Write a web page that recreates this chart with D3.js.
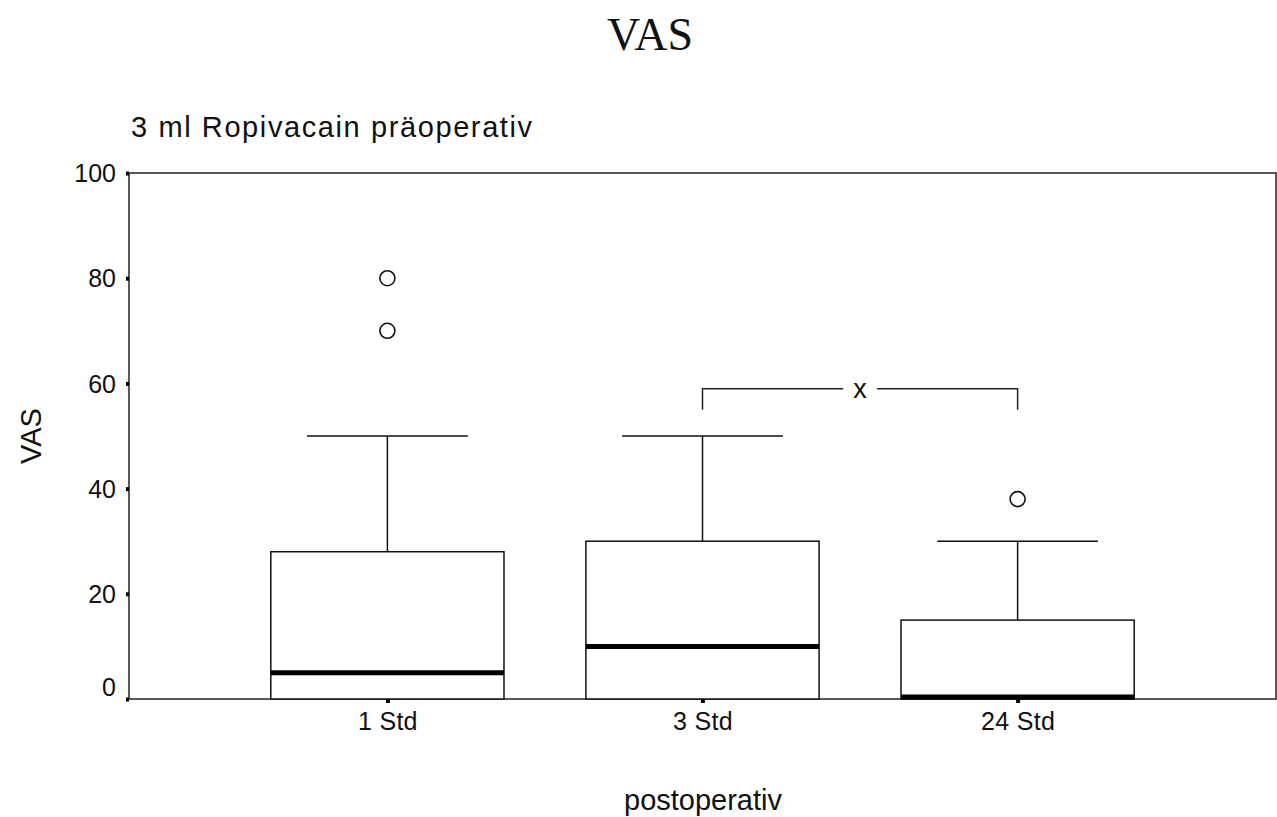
<!DOCTYPE html>
<html lang="de">
<head>
<meta charset="UTF-8">
<title>VAS</title>
<script src="https://d3js.org/d3.v7.min.js"></script>
<style>
  body { margin: 0; background: #fff; }
  text { font-family: "Liberation Sans", Arial, sans-serif; fill: #111; }
</style>
</head>
<body>
<script>
    // Daten
    const categories = ["1 Std", "3 Std", "24 Std"];
    const q1 = [0, 0, 0];
    const median = [5, 10, 0];
    const q3 = [28, 30, 15];
    const whiskerLow = [0, 0, 0];
    const whiskerHigh = [50, 50, 30];
    const outliers = [[80, 70], [], [38]];
    const yTicks = [0, 20, 40, 60, 80, 100];
    // Signifikanz-Klammer zwischen 3 Std und 24 Std
    const bracketPair = ["3 Std", "24 Std"];
    const bracketTop = 59;
    const bracketBottom = 55;
    const bracketLabel = "x";

    const width = 1277, height = 817;
    const margin = { top: 173, right: 1, bottom: 118, left: 129 };

    const svg = d3.select("body").append("svg")
        .attr("width", width)
        .attr("height", height);

    const x = d3.scalePoint()
        .domain(categories)
        .range([margin.left, width - margin.right])
        .padding(0.82);

    const y = d3.scaleLinear()
        .domain([0, 100])
        .range([height - margin.bottom, margin.top]);

    const step = x.step();
    const boxHalf = step * 0.37;
    const capHalf = step * 0.255;

    // Titel
    svg.append("text")
        .attr("x", 650).attr("y", 50)
        .attr("text-anchor", "middle")
        .style("font-family", "'Liberation Serif', 'Times New Roman', serif")
        .style("font-size", "46px")
        .text("VAS");

    svg.append("text")
        .attr("x", 131).attr("y", 137)
        .style("font-size", "29px")
        .style("letter-spacing", "1.6px")
        .text("3 ml Ropivacain präoperativ");

    // Rahmen
    svg.append("rect")
        .attr("x", margin.left).attr("y", margin.top)
        .attr("width", width - margin.right - margin.left)
        .attr("height", y(0) - margin.top)
        .attr("fill", "none")
        .attr("stroke", "#222")
        .attr("stroke-width", 1.5);

    // Achsen
    const yAxis = svg.append("g")
        .attr("transform", `translate(${margin.left},0)`)
        .call(d3.axisLeft(y).tickValues(yTicks).tickSize(3).tickPadding(10));
    yAxis.select(".domain").remove();
    yAxis.selectAll(".tick line").attr("stroke", "#000").attr("stroke-width", 4);
    yAxis.selectAll(".tick text")
        .style("font-size", "25px")
        .style("font-family", "'Liberation Sans', Arial, sans-serif")
        .attr("fill", "#111")
        .attr("dy", d => d === 0 ? "-0.15em" : "0.35em");

    const xAxis = svg.append("g")
        .attr("transform", `translate(0,${y(0)})`)
        .call(d3.axisBottom(x).tickSize(4).tickPadding(9));
    xAxis.select(".domain").remove();
    xAxis.selectAll(".tick line").attr("stroke", "#000").attr("stroke-width", 4);
    xAxis.selectAll(".tick text")
        .style("font-size", "25px")
        .style("letter-spacing", "0.3px")
        .style("font-family", "'Liberation Sans', Arial, sans-serif")
        .attr("fill", "#111");

    svg.append("text")
        .attr("x", 703).attr("y", 810)
        .attr("text-anchor", "middle")
        .style("font-size", "29px")
        .text("postoperativ");

    svg.append("text")
        .attr("transform", `translate(41,${(margin.top + y(0)) / 2}) rotate(-90)`)
        .attr("text-anchor", "middle")
        .style("font-size", "29px")
        .text("VAS");

    // Boxplots
    const boxes = svg.append("g").selectAll("g")
        .data(categories)
        .join("g");

    boxes.append("line")
        .attr("x1", d => x(d)).attr("x2", d => x(d))
        .attr("y1", (d, i) => y(q3[i])).attr("y2", (d, i) => y(whiskerHigh[i]))
        .attr("stroke", "#111").attr("stroke-width", 1.5);

    boxes.append("line")
        .attr("x1", d => x(d) - capHalf).attr("x2", d => x(d) + capHalf)
        .attr("y1", (d, i) => y(whiskerHigh[i])).attr("y2", (d, i) => y(whiskerHigh[i]))
        .attr("stroke", "#111").attr("stroke-width", 1.5);

    boxes.append("rect")
        .attr("x", d => x(d) - boxHalf)
        .attr("width", boxHalf * 2)
        .attr("y", (d, i) => y(q3[i]))
        .attr("height", (d, i) => y(q1[i]) - y(q3[i]))
        .attr("fill", "#fff")
        .attr("stroke", "#111").attr("stroke-width", 1.5);

    boxes.append("line")
        .attr("x1", d => x(d) - boxHalf).attr("x2", d => x(d) + boxHalf)
        .attr("y1", (d, i) => y(median[i]) - (median[i] === 0 ? 2 : 0))
        .attr("y2", (d, i) => y(median[i]) - (median[i] === 0 ? 2 : 0))
        .attr("stroke", "#000").attr("stroke-width", 5);

    boxes.selectAll("circle")
        .data((d, i) => outliers[i].map(v => ({ cat: d, v })))
        .join("circle")
        .attr("cx", o => x(o.cat))
        .attr("cy", o => y(o.v))
        .attr("r", 7.5)
        .attr("fill", "#fff")
        .attr("stroke", "#111").attr("stroke-width", 1.6);

    // Klammer
    const bx1 = x(bracketPair[0]), bx2 = x(bracketPair[1]);
    const bmid = (bx1 + bx2) / 2;
    const gap = 17;
    const bracket = svg.append("g")
        .attr("fill", "none").attr("stroke", "#222").attr("stroke-width", 1.5);
    bracket.append("path")
        .attr("d", `M${bx1},${y(bracketBottom)}V${y(bracketTop)}H${bmid - gap}`);
    bracket.append("path")
        .attr("d", `M${bmid + gap},${y(bracketTop)}H${bx2}V${y(bracketBottom)}`);
    svg.append("text")
        .attr("x", bmid).attr("y", y(bracketTop) + 9)
        .attr("text-anchor", "middle")
        .style("font-size", "27px")
        .text(bracketLabel);
</script>
</body>
</html>
